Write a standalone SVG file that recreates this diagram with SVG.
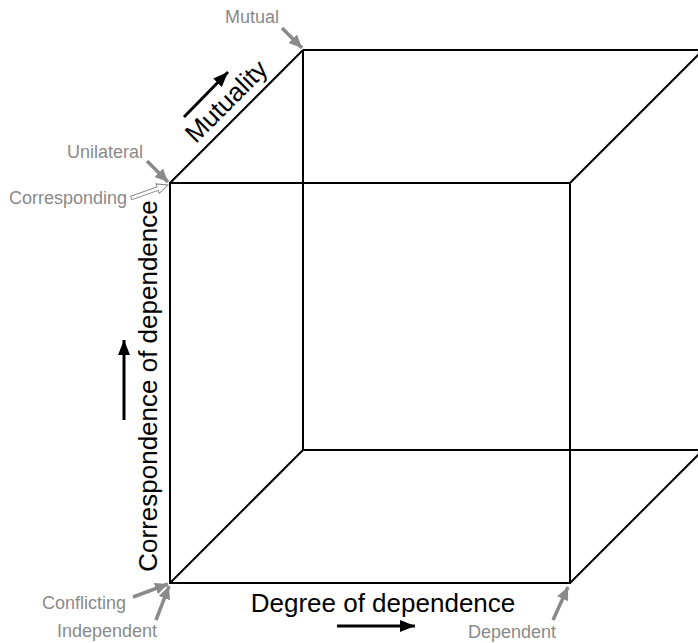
<svg xmlns="http://www.w3.org/2000/svg" width="698" height="643" viewBox="0 0 698 643">
<style>
.edge{stroke:#000;stroke-width:2;fill:none}
.lbl{font-family:"Liberation Sans",Arial,sans-serif;font-size:18px;fill:#8a8a8a}
.axis{font-family:"Liberation Sans",Arial,sans-serif;font-size:26px;fill:#000}
.garr{stroke:#8a8a8a;stroke-width:3.5;fill:none;marker-end:url(#gh)}
.barr{stroke:#000;stroke-width:3;fill:none;marker-end:url(#bh)}
</style>
<defs>
<marker id="gh" markerUnits="userSpaceOnUse" markerWidth="14" markerHeight="14" viewBox="0 0 14 14" refX="13" refY="7" orient="auto">
<path d="M0,1 L13,7 L0,13 Z" fill="#8a8a8a"/>
</marker>
<marker id="bh" markerUnits="userSpaceOnUse" markerWidth="16" markerHeight="14" viewBox="0 0 16 14" refX="15" refY="7" orient="auto">
<path d="M0,1 L15,7 L0,13 Z" fill="#000"/>
</marker>
</defs>
<rect width="698" height="643" fill="#fff"/>
<g id="connectors">
<g id="cube">
<line class="edge" x1="303" y1="50" x2="303" y2="450"/>
<line class="edge" x1="303" y1="50" x2="703" y2="50"/>
<line class="edge" x1="303" y1="450" x2="703" y2="450"/>
<line class="edge" x1="170" y1="183" x2="303" y2="50"/>
<line class="edge" x1="570" y1="183" x2="703" y2="50"/>
<line class="edge" x1="170" y1="583" x2="303" y2="450"/>
<line class="edge" x1="570" y1="583" x2="703" y2="450"/>
<rect class="edge" x="170" y="183" width="400" height="400"/>
</g>
<line class="garr" x1="282" y1="28" x2="302" y2="48"/>
<line class="garr" x1="147" y1="161" x2="168" y2="182"/>
<line class="garr" x1="133" y1="597" x2="168" y2="584"/>
<line class="garr" x1="156" y1="620" x2="169" y2="586"/>
<line class="garr" x1="553" y1="620" x2="568" y2="587"/>
<g transform="translate(168,185) rotate(-19.4)">
<path d="M-39,-1.8 L-11,-1.8 L-11,-5 L0,0 L-11,5 L-11,1.8 L-39,1.8 Z" fill="#fff" stroke="#8a8a8a" stroke-width="1"/>
</g>
<line class="barr" x1="184" y1="117" x2="228" y2="72"/>
<line class="barr" x1="124" y1="420" x2="124" y2="340"/>
<line class="barr" x1="337" y1="626" x2="415" y2="626"/>
</g>
<g id="mutual"><text class="lbl" x="225" y="23">Mutual</text></g>
<g id="unilateral"><text class="lbl" x="67" y="158">Unilateral</text></g>
<g id="corresponding"><text class="lbl" x="9" y="204">Corresponding</text></g>
<g id="conflicting"><text class="lbl" x="42" y="609">Conflicting</text></g>
<g id="independent"><text class="lbl" x="57" y="637">Independent</text></g>
<g id="dependent"><text class="lbl" x="468" y="638">Dependent</text></g>
<g id="mutuality"><text class="axis" text-anchor="middle" transform="translate(232.5,107.5) rotate(-45)">Mutuality</text></g>
<g id="correspondence"><text class="axis" text-anchor="middle" transform="translate(157,386) rotate(-90)">Correspondence of dependence</text></g>
<g id="degree"><text class="axis" text-anchor="middle" x="383" y="612">Degree of dependence</text></g>
</svg>
